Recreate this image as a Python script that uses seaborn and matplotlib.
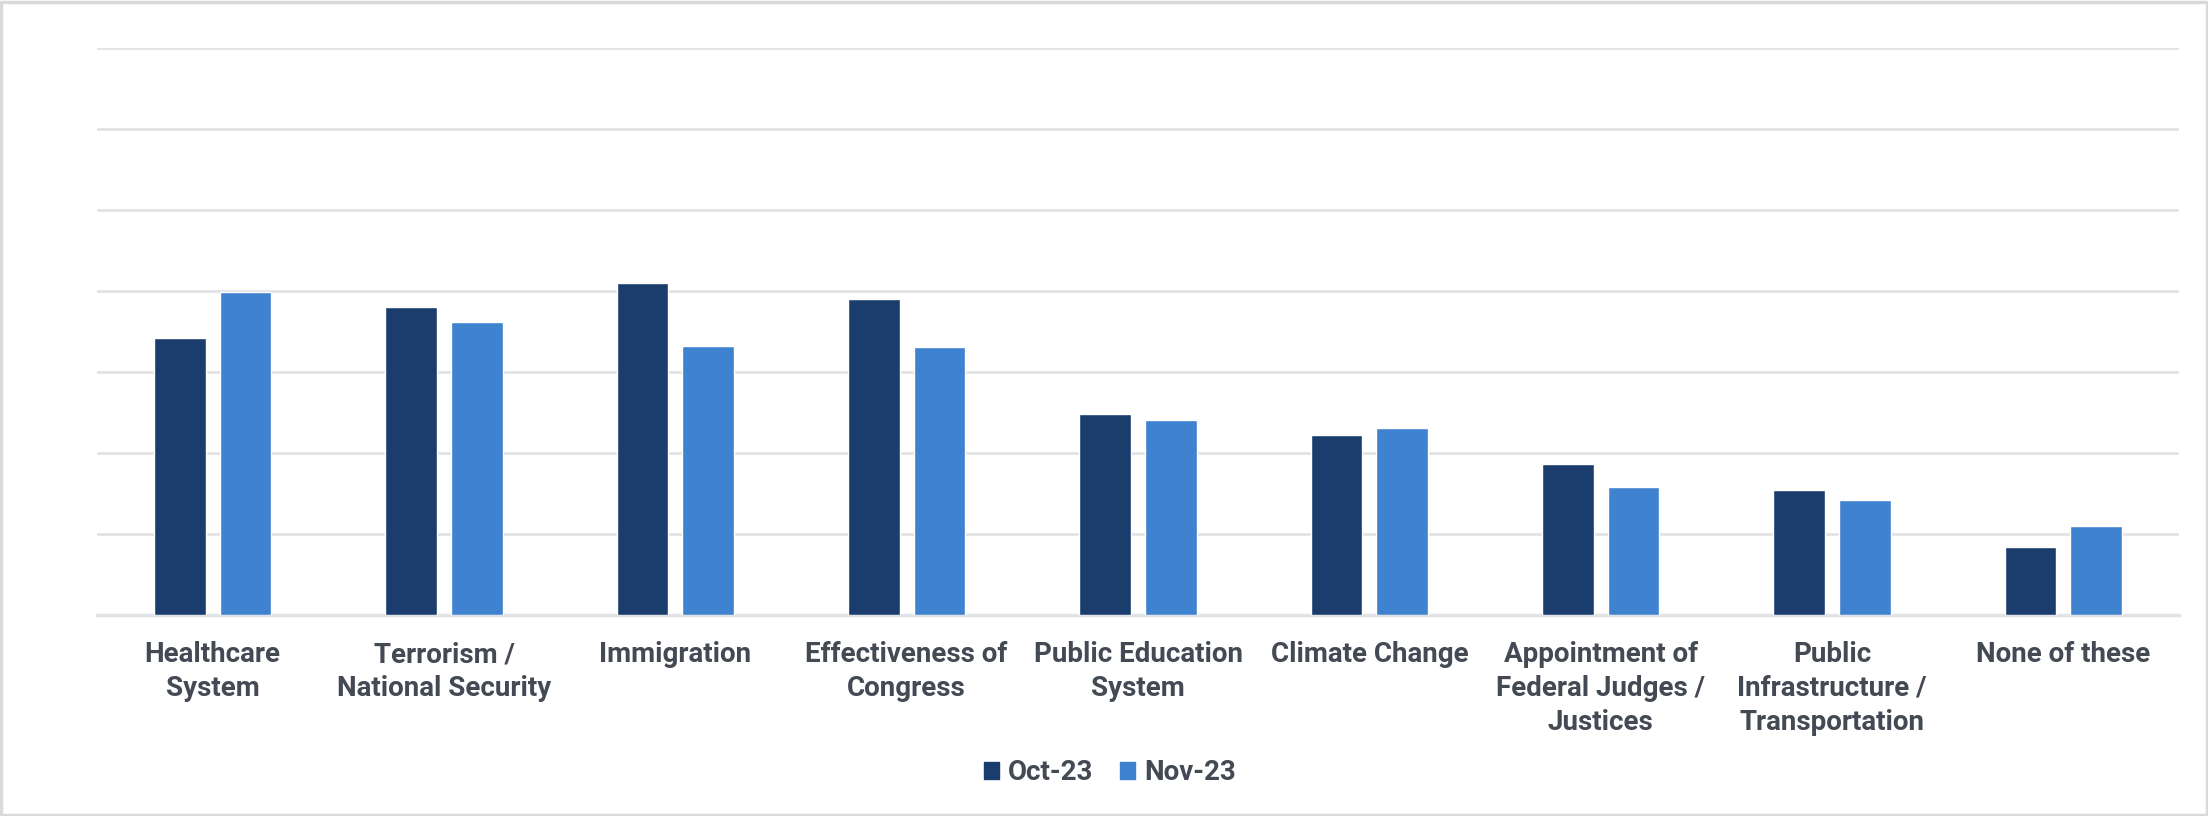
import matplotlib
matplotlib.use("Agg")
import matplotlib.pyplot as plt
import seaborn as sns
import pandas as pd
from matplotlib.patches import Rectangle

categories = [
    "Healthcare\nSystem",
    "Terrorism /\nNational Security",
    "Immigration",
    "Effectiveness of\nCongress",
    "Public Education\nSystem",
    "Climate Change",
    "Appointment of\nFederal Judges /\nJustices",
    "Public\nInfrastructure /\nTransportation",
    "None of these",
]
oct_23 = [17.1, 19.0, 20.5, 19.5, 12.4, 11.1, 9.3, 7.7, 4.2]
nov_23 = [19.9, 18.1, 16.6, 16.5, 12.0, 11.5, 7.9, 7.1, 5.5]
series = ["Oct-23", "Nov-23"]
colors = ["#1B3D6E", "#3F82CF"]

df = pd.DataFrame({
    "category": categories * 2,
    "value": oct_23 + nov_23,
    "period": [series[0]] * len(categories) + [series[1]] * len(categories),
})

sns.set_theme(style="white")
plt.rcParams["font.family"] = ["Roboto", "DejaVu Sans"]

fig = plt.figure(figsize=(22.08, 8.16), dpi=100)
ax = fig.add_axes([97 / 2208, 1 - 614.7 / 816, (2179 - 97) / 2208, (614.7 - 47.8) / 816])

sns.barplot(data=df, x="category", y="value", hue="period", order=categories,
            hue_order=series, palette=colors, width=0.568, gap=0.209,
            saturation=1, ax=ax, legend=False, zorder=3)

ax.set_ylim(0, 35)
ax.set_yticks(range(0, 36, 5))
ax.set_xlim(-0.5, len(categories) - 0.5)
ax.yaxis.grid(True, color="#E1E3E6", linewidth=2, zorder=0)
ax.set_axisbelow(True)
ax.tick_params(axis="y", left=False, labelleft=False)
ax.tick_params(axis="x", bottom=False, pad=13)
for s in ["top", "right", "left"]:
    ax.spines[s].set_visible(False)
ax.spines["bottom"].set_color("#E1E3E6")
ax.spines["bottom"].set_linewidth(2.5)
ax.set_xlabel("")
ax.set_ylabel("")
for lbl in ax.get_xticklabels():
    lbl.set_fontsize(20)
    lbl.set_fontweight("bold")
    lbl.set_color("#434A54")
    lbl.set_linespacing(1.32)
    lbl.set_verticalalignment("top")

handles = [Rectangle((0, 0), 1, 1, color=c) for c in colors]
fig.legend(handles, series, loc="center", bbox_to_anchor=(1110 / 2208, 1 - 773 / 816),
           ncol=2, frameon=False, handlelength=0.55, handleheight=0.55,
           handletextpad=0.32, columnspacing=0.95,
           prop={"family": ["Roboto", "DejaVu Sans"], "weight": "bold", "size": 20},
           labelcolor="#434A54")

fig.patches.append(Rectangle((0.0005, 0.001), 0.999, 0.997, transform=fig.transFigure,
                             fill=False, edgecolor="#D9D9D9", linewidth=2.5))

fig.savefig("out.png", dpi=100, facecolor="white")
